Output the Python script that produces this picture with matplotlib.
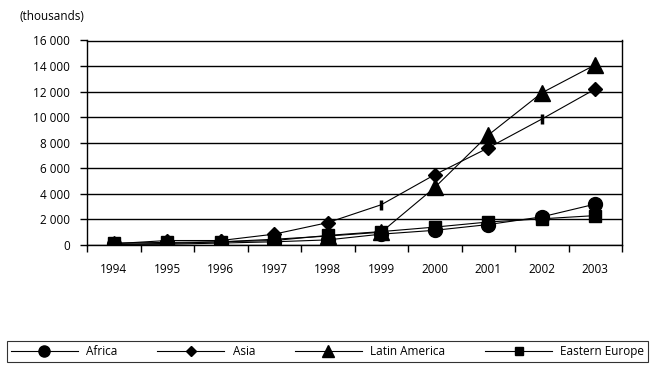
import matplotlib
matplotlib.use("Agg")
import matplotlib.pyplot as plt
import numpy as np

years = ["1994", "1995", "1996", "1997", "1998", "1999", "2000", "2001", "2002", "2003"]
africa = [50, 60, 150, 250, 400, 850, 1150, 1600, 2200, 3200]
asia = [100, 350, 350, 850, 1750, 3150, 5500, 7600, 9850, 12200]
latin_america = [50, 120, 250, 450, 700, 1000, 4500, 8600, 11900, 14100]
eastern_europe = [150, 200, 250, 350, 750, 1050, 1400, 1800, 2050, 2300]
y_ticks = [0, 2000, 4000, 6000, 8000, 10000, 12000, 14000, 16000]

plt.rcParams['font.family'] = ['Open Sans', 'DejaVu Sans']

fig = plt.figure(figsize=(6.57, 3.69), dpi=100)
ax = fig.add_axes([87/657, 1-245/369, 535/657, 204.5/369])

x = np.arange(len(years))
lw = 0.8
ax.plot(x, africa, color='black', lw=lw, marker='o', ms=10, zorder=3)
asia_idx = [i for i in range(len(years)) if i not in (5, 8)]
ax.plot(x, asia, color='black', lw=lw, zorder=3)
ax.plot(x[asia_idx], np.array(asia)[asia_idx], ls='none', color='black', marker='D', ms=7.5, zorder=3)
ax.plot(x[[5, 8]], np.array(asia)[[5, 8]], ls='none', color='black', marker='|', ms=7, mew=2.5, zorder=3)
ax.plot(x, latin_america, color='black', lw=lw, marker='^', ms=11, zorder=3)
ax.plot(x, eastern_europe, color='black', lw=lw, marker='s', ms=8.5, zorder=3)

ax.set_xlim(-0.5, len(years) - 0.5)
ax.set_ylim(0, 16000)
ax.set_yticks(y_ticks)
ax.set_yticklabels([f"{v:,}".replace(",", " ") for v in y_ticks], fontsize=8.5)
ax.set_xticks(x)
ax.set_xticklabels(years, fontsize=8.5)
ax.set_xticks(np.arange(-0.5, len(years), 1.0), minor=True)
ax.tick_params(axis='x', which='major', length=0, pad=13)
ax.tick_params(axis='x', which='minor', length=5, width=1, direction='out')
ax.tick_params(axis='y', length=5, width=1, direction='out', pad=7)
ax.yaxis.grid(True, color='black', lw=1)
ax.set_axisbelow(True)
for s in ax.spines.values():
    s.set_color('black')
    s.set_linewidth(1)

fig.text(20/657, 1-16/369, "(thousands)", fontsize=8.5, va='center', ha='left')

from matplotlib.lines import Line2D
handles = [
    Line2D([], [], color='black', lw=lw, marker='o', ms=8),
    Line2D([], [], color='black', lw=lw, marker='D', ms=5.5),
    Line2D([], [], color='black', lw=lw, marker='^', ms=8),
    Line2D([], [], color='black', lw=lw, marker='s', ms=6),
]
labels = ["Africa", "Asia", "Latin America", "Eastern Europe"]
leg = fig.legend(handles, labels, ncol=4, loc='center', mode='expand',
                 bbox_to_anchor=(7/657, 1-362/369, 641/657, 21/369),
                 fontsize=8.5, handlelength=5.7, handletextpad=0.7, columnspacing=2.0,
                 frameon=True, fancybox=False, edgecolor='black', borderpad=0.3,
                 borderaxespad=0)
leg.get_frame().set_linewidth(0.8)

fig.savefig("out.png", dpi=100)
